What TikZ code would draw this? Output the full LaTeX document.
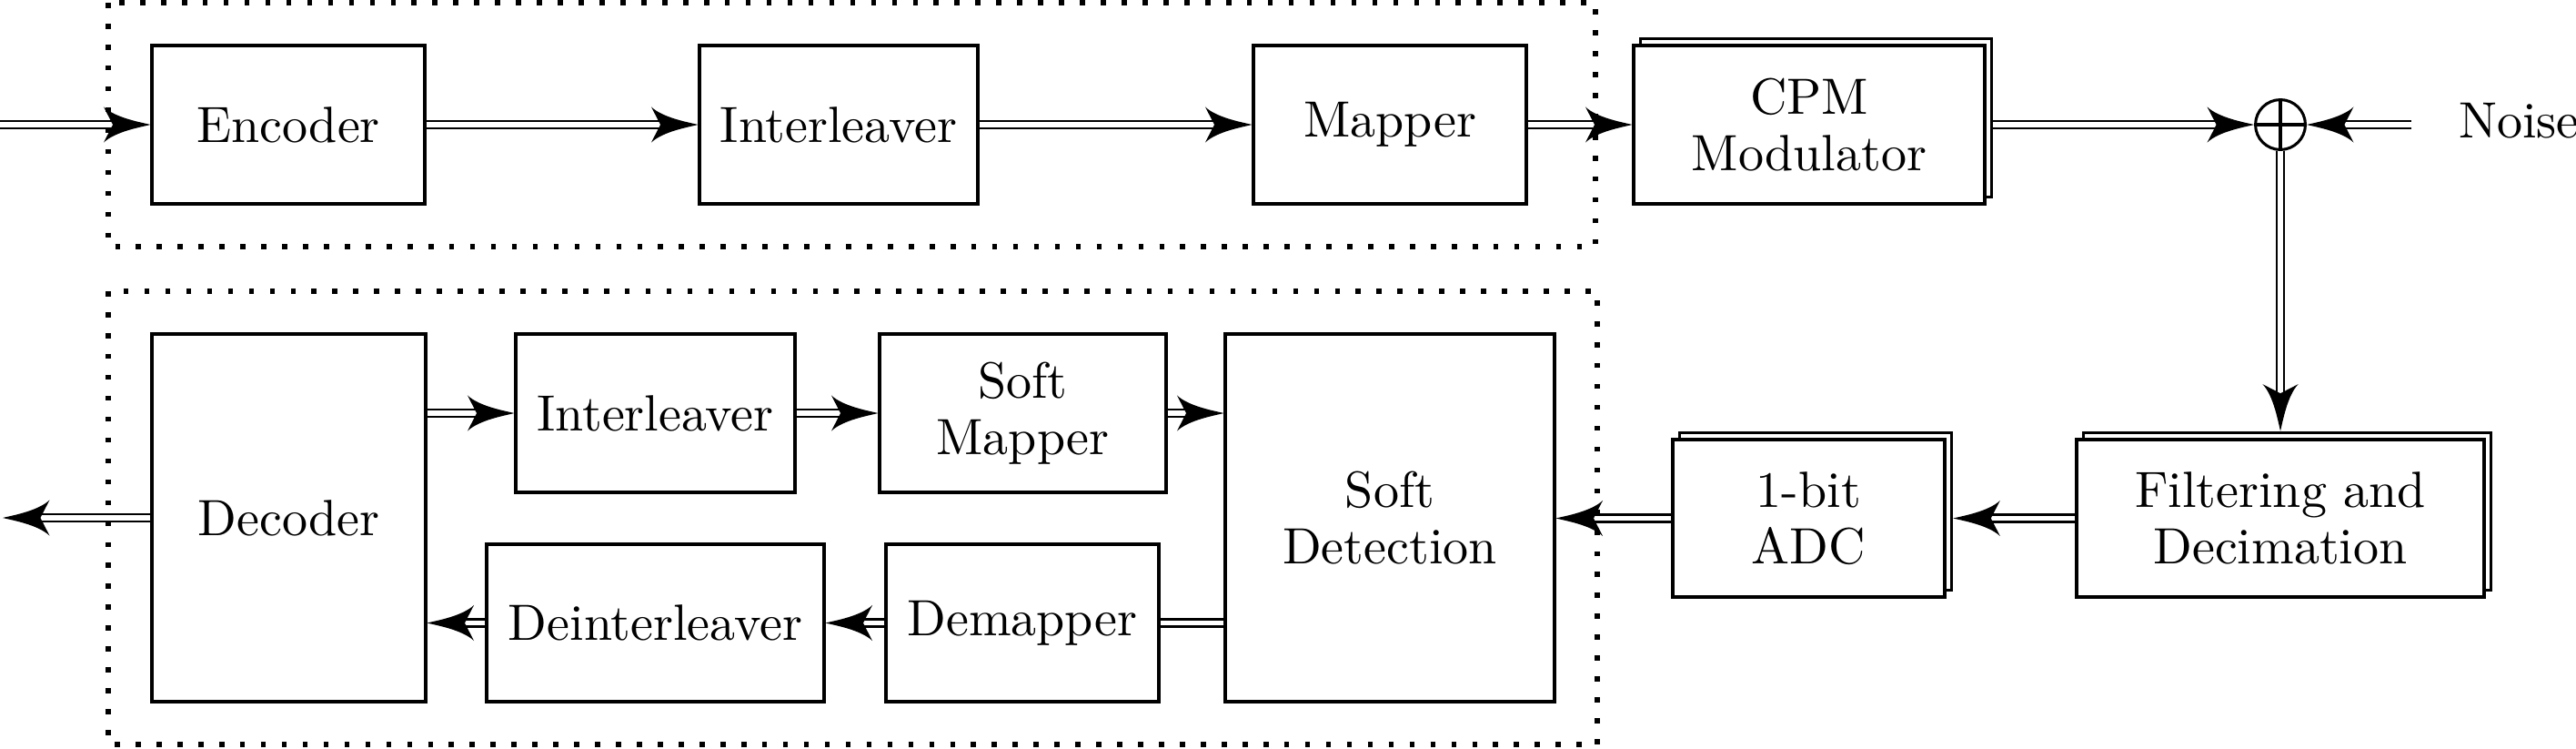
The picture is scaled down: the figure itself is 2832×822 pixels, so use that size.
\documentclass[tikz,border=0pt]{standalone}
\usetikzlibrary{arrows.meta,shadows}
\pgfdeclarearrow{
  name = CS,
  parameters = {\the\pgfarrowlength,\the\pgfarrowwidth,\the\pgfarrowinset},
  setup code = {
    \pgfarrowssettipend{0pt}
    \pgfarrowssetbackend{-\pgfarrowlength}
    \pgfarrowssetlineend{\dimexpr\pgfarrowinset-\pgfarrowlength\relax}
    \pgfarrowssavethe\pgfarrowlength
    \pgfarrowssavethe\pgfarrowwidth
    \pgfarrowssavethe\pgfarrowinset
  },
  drawing code = {
    \pgfpathmoveto{\pgfqpoint{0pt}{0pt}}
    \pgfpathcurveto
      {\pgfqpoint{-0.1875\pgfarrowlength}{0.0625\pgfarrowwidth}}
      {\pgfqpoint{-0.75\pgfarrowlength}{0.1875\pgfarrowwidth}}
      {\pgfqpoint{-\pgfarrowlength}{0.5\pgfarrowwidth}}
    \pgfpathlineto{\pgfqpoint{\dimexpr\pgfarrowinset-\pgfarrowlength\relax}{0pt}}
    \pgfpathlineto{\pgfqpoint{-\pgfarrowlength}{-0.5\pgfarrowwidth}}
    \pgfpathcurveto
      {\pgfqpoint{-0.75\pgfarrowlength}{-0.1875\pgfarrowwidth}}
      {\pgfqpoint{-0.1875\pgfarrowlength}{-0.0625\pgfarrowwidth}}
      {\pgfqpoint{0pt}{0pt}}
    \pgfpathclose
    \pgfusepathqfill
  },
  defaults = {length=9.2pt, width=7pt, inset=1.8pt}
}
\tikzset{
  blk/.style={draw, line width=0.55pt, inner sep=0pt, align=center, fill=white,
    font=\fontsize{10pt}{11pt}\selectfont},
  stackblk/.style={blk, copy shadow={shadow xshift=1.4pt, shadow yshift=1.4pt, line width=0.55pt}},
  dl/.style={double, line width=0.5pt, double distance=0.95pt},
  dla/.style={dl, -{CS}},
  dotbox/.style={line width=1pt, dash pattern=on 1pt off 3.1pt},
}
\begin{document}
\begin{tikzpicture}[x=0.178571pt, y=-0.178571pt]
\useasboundingbox (0,0) rectangle (2832,822);
% dotted groups
\draw[dotbox] (119,3) rectangle (1754,271);
\draw[dotbox] (119,320) rectangle (1756,818);
% top row
\node[blk, minimum width=53.57pt, minimum height=31.07pt] (enc) at (317,137) {Encoder};
\node[blk, minimum width=54.64pt, minimum height=31.07pt] (il1) at (922,137) {Interleaver};
\node[blk, minimum width=53.57pt, minimum height=31.07pt] (map) at (1528,137) {Mapper};
\node[stackblk, minimum width=68.93pt, minimum height=31.07pt] (cpm) at (1989,137) {CPM\\Modulator};
\node[draw, circle, line width=0.55pt, minimum size=9.8pt, inner sep=0pt,
  path picture={\draw[line width=0.55pt] (path picture bounding box.north) -- (path picture bounding box.south) (path picture bounding box.west) -- (path picture bounding box.east);}] (plus) at (2507,137) {};
\node[anchor=west, inner sep=0pt] (noise) at (2702,133) {Noise};
\coordinate (nz) at (2651,137);
\coordinate (src) at (0,137);
% bottom row
\node[blk, minimum width=53.75pt, minimum height=72.14pt] (dec) at (317.5,569) {Decoder};
\node[blk, minimum width=54.82pt, minimum height=31.07pt] (il2) at (720.5,454) {Interleaver};
\node[blk, minimum width=56.25pt, minimum height=31.07pt] (sm) at (1124.5,454) {Soft\\Mapper};
\node[blk, minimum width=64.64pt, minimum height=72.14pt] (sd) at (1528,569) {Soft\\Detection};
\node[blk, minimum width=66.25pt, minimum height=30.89pt] (deil) at (720.5,684.5) {Deinterleaver};
\node[blk, minimum width=53.57pt, minimum height=30.89pt] (dem) at (1124,684.5) {Demapper};
\node[stackblk, minimum width=53.39pt, minimum height=30.89pt] (adc) at (1988.5,569.5) {1-bit\\ADC};
\node[stackblk, minimum width=80pt, minimum height=30.89pt] (fil) at (2507,569.5) {Filtering and\\Decimation};
\coordinate (out) at (3,569);
% connectors
\draw[dla] (src) -- (enc.west);
\draw[dla] (enc) -- (il1);
\draw[dla] (il1) -- (map);
\draw[dla] (map) -- (cpm);
\draw[dla] ([xshift=1.4pt]cpm.east) -- (plus);
\draw[dla] (nz) -- (plus);
\draw[dla] (plus) -- ([yshift=1.4pt]fil.north);
\draw[dla] (fil.west) -- ([xshift=1.4pt]adc.east);
\draw[dla] (adc.west) -- (sd.east |- adc.west);
\draw[dla] (dec.east |- il2.west) -- (il2.west);
\draw[dla] (il2.east) -- (sm.west);
\draw[dla] (sm.east) -- (sd.west |- sm.east);
\draw[dl] (sd.west |- dem.east) -- (dem.east);
\draw[dla] (dem.west) -- (deil.east);
\draw[dla] (deil.west) -- (dec.east |- deil.west);
\draw[dla] (dec.west) -- (out);
\end{tikzpicture}
\end{document}
